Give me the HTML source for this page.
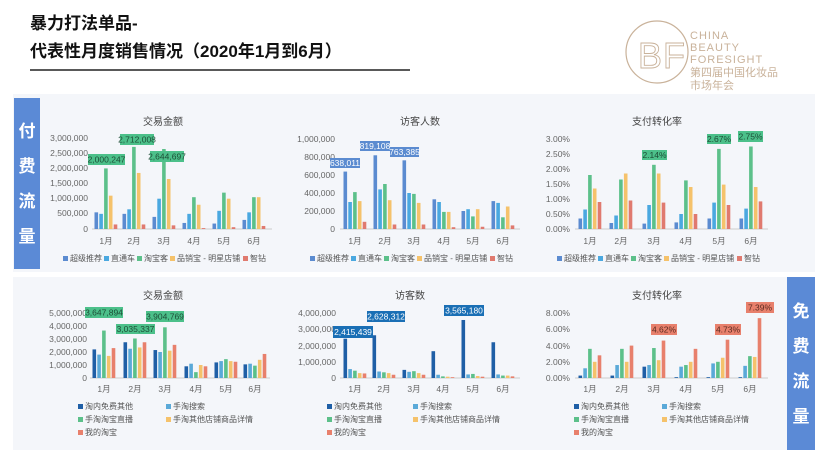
<!DOCTYPE html>
<html><head><meta charset="utf-8"><style>
body{margin:0;width:830px;height:467px;overflow:hidden;background:#fff;font-family:"Liberation Sans","Noto Sans CJK SC",sans-serif}
svg{position:absolute;left:0;top:0}
</style></head><body>
<svg id="s" width="830" height="467" xmlns="http://www.w3.org/2000/svg" font-family="Liberation Sans, Noto Sans CJK SC, sans-serif">
<text x="30" y="29" font-size="17" font-weight="bold" fill="#111">暴力打法单品-</text>
<text x="30" y="57" font-size="17" font-weight="bold" fill="#111">代表性月度销售情况（2020年1月到6月）</text>
<line x1="30" y1="70" x2="410" y2="70" stroke="#222" stroke-width="1.5"/>
<circle cx="657" cy="52" r="31" fill="none" stroke="#c9b29a" stroke-width="1.2"/>
<text x="638" y="68" font-size="36" fill="none" stroke="#c9b29a" stroke-width="0.9" font-family="Liberation Sans">B</text>
<text x="663" y="68" font-size="36" fill="none" stroke="#c9b29a" stroke-width="0.9" font-family="Liberation Sans">F</text>
<g font-size="11" fill="#c9b29a">
<text x="690" y="39" letter-spacing="1">CHINA</text>
<text x="690" y="51" letter-spacing="1">BEAUTY</text>
<text x="690" y="63" letter-spacing="1">FORESIGHT</text>
<text x="690" y="76">第四届中国化妆品</text>
<text x="690" y="89">市场年会</text>
</g>
<rect x="13" y="94" width="802" height="178" fill="#f4f6fa"/>
<rect x="13" y="277" width="774" height="173" fill="#f4f6fa"/>
<rect x="14" y="98" width="26" height="171" fill="#5b8ad6"/>
<rect x="787" y="277" width="28" height="173" fill="#5b8ad6"/>
<g font-size="17" font-weight="bold" fill="#fff" text-anchor="middle">
<text x="27" y="137">付</text><text x="27" y="172">费</text><text x="27" y="207">流</text><text x="27" y="242">量</text>
<text x="801" y="317">免</text><text x="801" y="352">费</text><text x="801" y="387">流</text><text x="801" y="422">量</text>
</g>
<g font-size="10" fill="#444" text-anchor="middle">
<text x="163" y="125">交易金额</text><text x="420" y="125">访客人数</text><text x="657" y="125">支付转化率</text>
<text x="163" y="299">交易金额</text><text x="410" y="299">访客数</text><text x="657" y="299">支付转化率</text>
</g>
<g font-size="8.5" fill="#666" text-anchor="end">
<text x="88" y="141">3,000,000</text><text x="88" y="156">2,500,000</text><text x="88" y="171">2,000,000</text><text x="88" y="186">1,500,000</text><text x="88" y="201">1,000,000</text><text x="88" y="216">500,000</text><text x="88" y="232">0</text>
<text x="335" y="142">1,000,000</text><text x="335" y="160">800,000</text><text x="335" y="178">600,000</text><text x="335" y="196">400,000</text><text x="335" y="214">200,000</text><text x="335" y="232">0</text>
<text x="570" y="142">3.00%</text><text x="570" y="157">2.50%</text><text x="570" y="172">2.00%</text><text x="570" y="187">1.50%</text><text x="570" y="202">1.00%</text><text x="570" y="217">0.50%</text><text x="570" y="232">0.00%</text>
<text x="87" y="316">5,000,000</text><text x="87" y="329">4,000,000</text><text x="87" y="342">3,000,000</text><text x="87" y="355">2,000,000</text><text x="87" y="368">1,000,000</text><text x="87" y="381">0</text>
<text x="336" y="316">4,000,000</text><text x="336" y="332">3,000,000</text><text x="336" y="349">2,000,000</text><text x="336" y="365">1,000,000</text><text x="336" y="381">0</text>
<text x="570" y="316">8.00%</text><text x="570" y="332">6.00%</text><text x="570" y="349">4.00%</text><text x="570" y="365">2.00%</text><text x="570" y="381">0.00%</text>
</g>
<g font-size="8.5" fill="#666" text-anchor="middle">
<text x="106" y="244">1月</text><text x="134" y="244">2月</text><text x="164" y="244">3月</text><text x="194" y="244">4月</text><text x="224" y="244">5月</text><text x="254" y="244">6月</text>
<text x="355" y="244">1月</text><text x="385" y="244">2月</text><text x="414" y="244">3月</text><text x="444" y="244">4月</text><text x="473" y="244">5月</text><text x="503" y="244">6月</text>
<text x="590" y="244">1月</text><text x="621" y="244">2月</text><text x="654" y="244">3月</text><text x="686" y="244">4月</text><text x="719" y="244">5月</text><text x="751" y="244">6月</text>
<text x="104" y="392">1月</text><text x="135" y="392">2月</text><text x="165" y="392">3月</text><text x="196" y="392">4月</text><text x="226" y="392">5月</text><text x="255" y="392">6月</text>
<text x="355" y="392">1月</text><text x="384" y="392">2月</text><text x="414" y="392">3月</text><text x="443" y="392">4月</text><text x="473" y="392">5月</text><text x="503" y="392">6月</text>
<text x="590" y="392">1月</text><text x="622" y="392">2月</text><text x="654" y="392">3月</text><text x="686" y="392">4月</text><text x="718" y="392">5月</text><text x="750" y="392">6月</text>
</g>
<g font-size="8" fill="#555">
<rect x="63" y="256" width="5" height="5" fill="#5b8bd0"/><text x="70" y="261">超级推荐</text>
<rect x="104" y="256" width="5" height="5" fill="#4aa8e0"/><text x="111" y="261">直通车</text>
<rect x="137" y="256" width="5" height="5" fill="#5cc08a"/><text x="144" y="261">淘宝客</text>
<rect x="170" y="256" width="5" height="5" fill="#f5c26b"/><text x="177" y="261">品销宝 - 明星店铺</text>
<rect x="243" y="256" width="5" height="5" fill="#e07a6f"/><text x="250" y="261">智钻</text>
<rect x="310" y="256" width="5" height="5" fill="#5b8bd0"/><text x="317" y="261">超级推荐</text>
<rect x="351" y="256" width="5" height="5" fill="#4aa8e0"/><text x="358" y="261">直通车</text>
<rect x="384" y="256" width="5" height="5" fill="#5cc08a"/><text x="391" y="261">淘宝客</text>
<rect x="417" y="256" width="5" height="5" fill="#f5c26b"/><text x="424" y="261">品销宝 - 明星店铺</text>
<rect x="490" y="256" width="5" height="5" fill="#e07a6f"/><text x="497" y="261">智钻</text>
<rect x="557" y="256" width="5" height="5" fill="#5b8bd0"/><text x="564" y="261">超级推荐</text>
<rect x="598" y="256" width="5" height="5" fill="#4aa8e0"/><text x="605" y="261">直通车</text>
<rect x="631" y="256" width="5" height="5" fill="#5cc08a"/><text x="638" y="261">淘宝客</text>
<rect x="664" y="256" width="5" height="5" fill="#f5c26b"/><text x="671" y="261">品销宝 - 明星店铺</text>
<rect x="737" y="256" width="5" height="5" fill="#e07a6f"/><text x="744" y="261">智钻</text>

<rect x="78" y="404" width="5" height="5" fill="#1f5fa6"/><text x="85" y="409">淘内免费其他</text>
<rect x="166" y="404" width="5" height="5" fill="#5aa9d8"/><text x="173" y="409">手淘搜索</text>
<rect x="78" y="417" width="5" height="5" fill="#5cc08a"/><text x="85" y="422">手淘淘宝直播</text>
<rect x="166" y="417" width="5" height="5" fill="#f5c26b"/><text x="173" y="422">手淘其他店铺商品详情</text>
<rect x="78" y="430" width="5" height="5" fill="#e8806c"/><text x="85" y="435">我的淘宝</text>
<rect x="327" y="404" width="5" height="5" fill="#1f5fa6"/><text x="334" y="409">淘内免费其他</text>
<rect x="413" y="404" width="5" height="5" fill="#5aa9d8"/><text x="420" y="409">手淘搜索</text>
<rect x="327" y="417" width="5" height="5" fill="#5cc08a"/><text x="334" y="422">手淘淘宝直播</text>
<rect x="413" y="417" width="5" height="5" fill="#f5c26b"/><text x="420" y="422">手淘其他店铺商品详情</text>
<rect x="327" y="430" width="5" height="5" fill="#e8806c"/><text x="334" y="435">我的淘宝</text>
<rect x="574" y="404" width="5" height="5" fill="#1f5fa6"/><text x="581" y="409">淘内免费其他</text>
<rect x="662" y="404" width="5" height="5" fill="#5aa9d8"/><text x="669" y="409">手淘搜索</text>
<rect x="574" y="417" width="5" height="5" fill="#5cc08a"/><text x="581" y="422">手淘淘宝直播</text>
<rect x="662" y="417" width="5" height="5" fill="#f5c26b"/><text x="669" y="422">手淘其他店铺商品详情</text>
<rect x="574" y="430" width="5" height="5" fill="#e8806c"/><text x="581" y="435">我的淘宝</text>
</g>
<g id="bars"></g>
<g font-size="8.5" text-anchor="middle">
<rect x="88" y="154" width="37" height="11" fill="#4cc08a"/><text x="106.5" y="162.5" fill="#1d4d36">2,000,247</text>
<rect x="120" y="134" width="34" height="11" fill="#4cc08a"/><text x="137" y="142.5" fill="#1d4d36">2,712,008</text>
<rect x="150" y="151" width="34" height="11" fill="#4cc08a"/><text x="167" y="159.5" fill="#1d4d36">2,644,697</text>
<rect x="330" y="158" width="30" height="10" fill="#5b8bd0"/><text x="345" y="166" fill="#fff">638,011</text>
<rect x="360" y="141" width="30" height="10" fill="#5b8bd0"/><text x="375" y="149" fill="#fff">819,108</text>
<rect x="390" y="147" width="29" height="10" fill="#5b8bd0"/><text x="404.5" y="155" fill="#fff">763,385</text>
<rect x="642" y="150" width="25" height="10" fill="#4cc08a"/><text x="654.5" y="158" fill="#1d4d36">2.14%</text>
<rect x="707" y="134" width="24" height="10" fill="#4cc08a"/><text x="719" y="142" fill="#1d4d36">2.67%</text>
<rect x="738" y="131" width="25" height="11" fill="#4cc08a"/><text x="750.5" y="139.5" fill="#1d4d36">2.75%</text>
<rect x="85" y="307" width="38" height="11" fill="#4cc08a"/><text x="104" y="315.5" fill="#1d4d36">3,647,894</text>
<rect x="116" y="324" width="39" height="10" fill="#4cc08a"/><text x="135.5" y="332" fill="#1d4d36">3,035,337</text>
<rect x="146" y="311" width="38" height="11" fill="#4cc08a"/><text x="165" y="319.5" fill="#1d4d36">3,904,769</text>
<rect x="333" y="326" width="40" height="12" fill="#1a6fb5"/><text x="353" y="335" fill="#fff">2,415,439</text>
<rect x="367" y="311" width="38" height="11" fill="#1a6fb5"/><text x="386" y="319.5" fill="#fff">2,628,312</text>
<rect x="444" y="305" width="40" height="11" fill="#1a6fb5"/><text x="464" y="313.5" fill="#fff">3,565,180</text>
<rect x="651" y="324" width="26" height="11" fill="#e8806c"/><text x="664" y="332.5" fill="#5a2a20">4.62%</text>
<rect x="715" y="324" width="26" height="11" fill="#e8806c"/><text x="728" y="332.5" fill="#5a2a20">4.73%</text>
<rect x="746" y="302" width="28" height="11" fill="#e8806c"/><text x="760" y="310.5" fill="#5a2a20">7.39%</text>
</g>
</svg>
<script>
var g=document.getElementById('bars'),NS='http://www.w3.org/2000/svg';
var T=['#5b8bd0','#4aa8e0','#5cc08a','#f5c26b','#e07a6f'],B=['#1f5fa6','#5aa9d8','#5cc08a','#f5c26b','#e8806c'];
function ch(xs,y0,scale,data,cols,x1,x2){
 var l=document.createElementNS(NS,'line');l.setAttribute('x1',x1);l.setAttribute('x2',x2);l.setAttribute('y1',y0);l.setAttribute('y2',y0);l.setAttribute('stroke','#ccc');g.appendChild(l);
 data.forEach(function(d,m){d.forEach(function(v,i){var r=document.createElementNS(NS,'rect');var h=v*scale;
 r.setAttribute('x',xs[m]-11.5+i*4.8);r.setAttribute('y',y0-h);r.setAttribute('width',3.6);r.setAttribute('height',h);r.setAttribute('fill',cols[i]);g.appendChild(r);});});
}
ch([106,134,164,194,224,254],229,30.3,[[.55,.5,2.0,1.1,.15],[.5,.65,2.71,1.85,.15],[.4,1.0,2.64,1.65,.12],[.2,.5,1.05,.8,.03],[.18,.6,1.2,1.0,.06],[.3,.55,1.05,1.05,.1]],T,92,272);
ch([355,385,414,444,473,503],229,0.09,[[638,300,410,310,80],[819,440,500,320,50],[763,400,390,290,50],[330,300,190,190,20],[200,220,140,220,25],[310,290,130,250,40]],T,340,520);
ch([590,621,654,686,719,751],229,30,[[.35,.65,1.8,1.35,.9],[.2,.45,1.65,1.85,.95],[.18,.8,2.14,1.85,.88],[.22,.5,1.62,1.4,.5],[.35,.88,2.67,1.48,.8],[.35,.68,2.75,1.4,.92]],T,575,768);
ch([104,135,165,196,226,255],378,13,[[2.2,1.8,3.65,1.7,2.3],[2.75,2.25,3.04,2.35,2.75],[2.15,2.0,3.9,2.1,2.55],[.9,1.1,.45,1.0,.9],[1.2,1.3,1.45,1.3,1.25],[1.05,1.1,.95,1.4,1.85]],B,90,270);
ch([355,384,414,443,473,503],378,16.25,[[2.42,.55,.45,.3,.28],[2.63,.4,.35,.3,.2],[.5,.38,.42,.3,.2],[1.65,.2,.1,.08,.05],[3.57,.22,.25,.12,.08],[2.2,.22,.15,.15,.1]],B,340,520);
ch([590,622,654,686,718,750],378,8.1,[[.3,1.2,3.6,2.0,2.8],[.3,1.6,3.6,2.0,4.0],[1.4,1.6,3.7,2.2,4.62],[.1,1.4,1.6,2.0,3.6],[.1,1.8,2.0,2.5,4.73],[.1,1.5,2.7,2.6,7.39]],B,575,768);
</script>
</body></html>
